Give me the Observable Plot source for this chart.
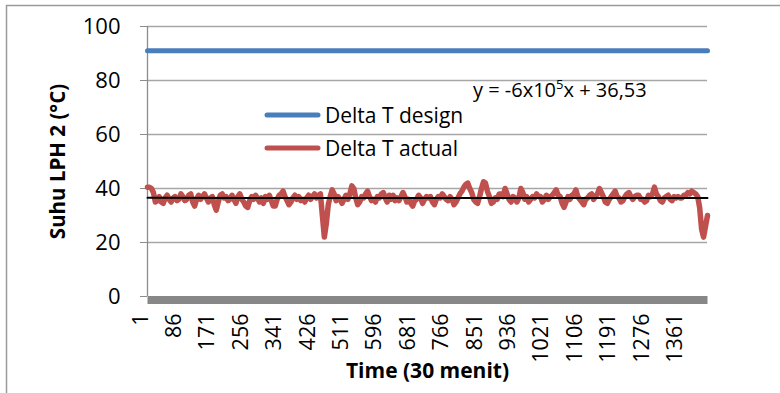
<!DOCTYPE html>
<html><head><meta charset="utf-8">
<script src="https://cdn.jsdelivr.net/npm/d3@7"></script>
<script src="https://cdn.jsdelivr.net/npm/@observablehq/plot@0.6"></script>
<style>body{margin:0;background:#fff} svg{display:block}</style>
</head><body><div id="chart"></div>
<script>
// ---- data ----
// observation index (every 5th time step of the category axis 1..1426)
const timeIndex = d3.range(1, 1427, 5);
const deltaActual = [
  40.5,40.5,40,38.5,35,35.5,37,35,34.5,36.5,
  37.5,36,35,36.5,37,35.5,36,38,37,35.5,
  36,37.5,38,35,33.5,36,37.5,36,37,38,
  36.5,35,36.5,37,34,32,35,37.5,38,36.5,
  37,35.5,36,37.5,36,34.5,37,38,36,35,
  33.5,33,35.5,37,36,37.5,36.5,35,36.5,34.5,
  37,36,37.5,35.5,33.5,33.5,36,37.5,38,39,
  37,35.5,34,35,36.5,37.5,36,37,35.5,36,
  35,36.5,37.5,36,37,38,36.5,37.5,38,30,
  22,27,34,37,39.5,38,35.5,37,36,34.5,
  36,37.5,36,38,41,40,36.5,34,35,37,
  36.5,38,39,37,35.5,36,35,37,36.5,38,
  38.5,36.5,35,37.5,36,37.5,35.5,36.5,35.5,37,
  38.5,37,35,36,34.5,33.5,35.5,36,37.5,36.5,
  34.5,36,37,36.5,37,35,34,36,37,36.5,
  38,37,36,35.5,37,36,34,35,36.5,38,
  39,40.5,41.5,42,40,38.5,36,35,34.5,37,
  40,42.5,42,39,37,34.5,35,36.5,36,38,
  38,37,40,38,36,35,37,36.5,35,36.5,
  40,38.5,36,37,35,36,37,36.5,38,37,
  37,35,36,37.5,36,37,37.5,38.5,39.5,37.5,
  37,34.5,33,35,37,36,37.5,38,39.5,37,
  36,35,34,36,36.5,37.5,38,36,37,38,
  40,38.5,37,35,34.5,36,37,38,39,37,
  36.5,35,35.5,37,38,38.5,37,36,37,37.5,
  37.5,36,36,35,35.5,37.5,37,38,40.5,38,
  37,35.5,35,36.5,37,37.5,36,35.5,37,36.5,
  37,36.5,36.5,37.5,37.5,38.5,38,39,38.5,38,
  37,33,25,22,26,30
];
const designX = [1, 1426];
const designY = [91, 91];
const zeroX = [1, 1426];
const zeroY = [0, 0];
const trendX = [1, 1426];
const trendY = [36.53, 36.44];
const xTicks = [1,86,171,256,341,426,511,596,681,766,851,936,1021,1106,1191,1276,1361];
const yTicks = [0,20,40,60,80,100];
const seriesNames = ["Delta T design", "Delta T actual"];
const seriesColors = ["#4a7ebb", "#c0504d"];
const equationMain = "y = -6x10";
const equationSup = "5";
const equationRest = "x + 36,53";
const xTitle = "Time (30 menit)";
const yTitle = "Suhu LPH 2 (°C)";

const FONT = "'Open Sans', Lato, sans-serif";
const actual = timeIndex.map((t, i) => ({t, v: deltaActual[i]}));
const design = designX.map((t, i) => ({t, v: designY[i]}));
const zero = zeroX.map((t, i) => ({t, v: zeroY[i]}));
const trend = trendX.map((t, i) => ({t, v: trendY[i]}));

const plot = Plot.plot({
  width: 780, height: 393,
  marginLeft: 147, marginRight: 73, marginTop: 26, marginBottom: 97,
  style: {fontFamily: FONT, background: "white", color: "black", overflow: "visible"},
  x: {domain: [1, 1426], axis: null},
  y: {domain: [0, 100], axis: null},
  marks: [
    Plot.ruleY(yTicks.filter(d => d > 0), {stroke: "#a6a6a6", strokeWidth: 1.3}),
    Plot.axisY({ticks: yTicks, tickSize: 7, tickPadding: 20, fontSize: 22, stroke: "#8c8c8c", label: null, tickFormat: d => String(d)}),
    Plot.ruleX([1], {y1: 0, y2: 100, stroke: "#8c8c8c", strokeWidth: 1.3}),
    Plot.line(zero, {x: "t", y: "v", stroke: "#878787", strokeWidth: 8, dy: 3.5, strokeLinecap: "butt"}),
    Plot.line(design, {x: "t", y: "v", stroke: seriesColors[0], strokeWidth: 5}),
    Plot.line(actual, {x: "t", y: "v", stroke: seriesColors[1], strokeWidth: 5.5, strokeLinejoin: "round", strokeLinecap: "round"}),
    Plot.line(trend, {x: "t", y: "v", stroke: "black", strokeWidth: 2}),
    Plot.text(xTicks, {x: d => d, frameAnchor: "bottom", text: d => String(d), rotate: -90, textAnchor: "end", dy: 17, fontSize: 21.5}),
    Plot.text([xTitle], {frameAnchor: "bottom", dy: 81, fontWeight: "bold", fontSize: 21, textAnchor: "middle", text: d => d}),
    Plot.text([yTitle], {frameAnchor: "left", dx: -89, rotate: -90, fontWeight: "bold", fontSize: 20.5, textAnchor: "middle", text: d => d})
  ]
});

const svg = d3.select(plot);
// outer chart border (top and left edges visible)
svg.append("path").attr("d", "M6.5,393 V5.5 H780").attr("fill", "none").attr("stroke", "#9a9a9a").attr("stroke-width", 1.5);

// legend
const lg = svg.append("g").attr("font-family", FONT).attr("font-size", 21).attr("text-anchor", "start");
seriesNames.forEach((name, i) => {
  const cy = 115 + i * 33;
  lg.append("line").attr("x1", 267).attr("x2", 318).attr("y1", cy).attr("y2", cy)
    .attr("stroke", seriesColors[i]).attr("stroke-width", 5).attr("stroke-linecap", "round");
  lg.append("text").attr("x", 325).attr("y", cy + 8).text(name);
});

// trendline equation
const eq = svg.append("text").attr("x", 473).attr("y", 97).attr("font-family", FONT).attr("font-size", 20).attr("text-anchor", "start");
eq.append("tspan").text(equationMain);
eq.append("tspan").attr("font-size", 13).attr("dy", -8).text(equationSup);
eq.append("tspan").attr("dy", 8).text(equationRest);

document.getElementById("chart").appendChild(plot);
</script>
</body></html>
